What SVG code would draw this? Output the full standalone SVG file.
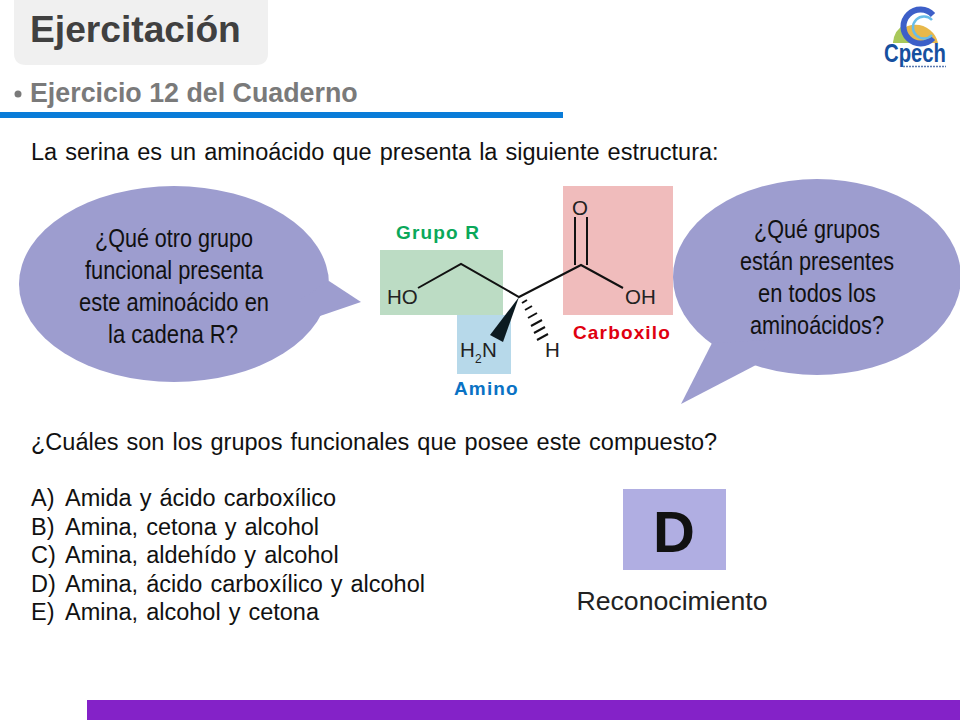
<svg xmlns="http://www.w3.org/2000/svg" width="960" height="720" viewBox="0 0 960 720">
<style>
text{font-family:"Liberation Sans",Arial,sans-serif}
.b{font-size:23.5px;fill:#111;word-spacing:1.5px}
.c{font-size:25px;fill:#111;text-anchor:middle}
.l{font-size:19px;font-weight:bold;letter-spacing:1.15px}
.bond{stroke:#111;stroke-width:2;fill:none}
.bub{fill:#9d9dcf}
</style>
<rect width="960" height="720" fill="#fff"/>
<path d="M14 -10H268V53Q268 65 256 65H26Q14 65 14 53Z" fill="#f0f0f0"/>
<text x="30" y="42" font-size="37.2" font-weight="bold" fill="#404040">Ejercitación</text>
<circle cx="18" cy="94" r="3.500" fill="#7a7a7a"/>
<text x="30" y="102" font-size="26.8" font-weight="bold" fill="#7a7a7a">Ejercicio 12 del Cuaderno</text>
<rect y="112" width="563" height="6" fill="#0a7cd8"/>
<g id="logo">
<path d="M893 43A23 23 0 0 1 938 43Z" fill="#e8b84a"/>
<path d="M893 43A23 23 0 0 1 905 24L910 43Z" fill="#a8c85a"/>
<path d="M933 15A17 17 0 1 0 933 38" fill="none" stroke="#3d5fc8" stroke-width="6"/>
<path d="M932 20A11 11 0 1 0 932 35" fill="none" stroke="#69bde8" stroke-width="2.500"/>
<text x="915" y="62" font-size="25" font-weight="bold" fill="#16509f" text-anchor="middle" textLength="62" lengthAdjust="spacingAndGlyphs">Cpech</text>
<path d="M903 66.500H946" stroke="#5a7ab0" stroke-width="1.500" stroke-dasharray="2 1"/>
</g>
<text x="31" y="160" class="b">La serina es un aminoácido que presenta la siguiente estructura:</text>
<g id="bubble-left">
<ellipse class="bub" cx="174" cy="284" rx="155" ry="98"/>
<path class="bub" d="M329 281L361 302L320 316L300 300Z"/>
<text class="c" x="174" y="247" textLength="158" lengthAdjust="spacingAndGlyphs">¿Qué otro grupo</text>
<text class="c" x="174" y="279" textLength="178" lengthAdjust="spacingAndGlyphs">funcional presenta</text>
<text class="c" x="174" y="311" textLength="190" lengthAdjust="spacingAndGlyphs">este aminoácido en</text>
<text class="c" x="173" y="343" textLength="130" lengthAdjust="spacingAndGlyphs">la cadena R?</text>
</g>
<g id="bubble-right">
<ellipse class="bub" cx="817" cy="277" rx="144" ry="98"/>
<path class="bub" d="M712 343L681 404L756 365L770 340Z"/>
<text class="c" x="817" y="238" textLength="126" lengthAdjust="spacingAndGlyphs">¿Qué grupos</text>
<text class="c" x="817" y="270" textLength="154" lengthAdjust="spacingAndGlyphs">están presentes</text>
<text class="c" x="817" y="302" textLength="118" lengthAdjust="spacingAndGlyphs">en todos los</text>
<text class="c" x="817" y="334" textLength="134" lengthAdjust="spacingAndGlyphs">aminoácidos?</text>
</g>
<g id="molecule">
<rect x="380" y="250" width="123" height="65" fill="#bcdcc4"/>
<rect x="457" y="315" width="54" height="59" fill="#b7d9ea"/>
<rect x="563" y="186" width="110" height="129" fill="#f0bcbc"/>
<path class="bond" d="M418 288L461 264L519 297L581 265L623 288"/>
<path class="bond" d="M575 217V265M587 217V265"/>
<path d="M519 297L490 335L503 342Z" fill="#0c1a20"/>
<path class="bond" stroke-width="1.500" d="M522 303L527 300M525 310L532 306M528 318L537 313M531 326L542 320M534 333L545 327M537 340L548 334"/>
<g font-size="20.500" fill="#222">
<text x="387" y="304">HO</text>
<text x="625" y="304">OH</text>
<text x="572" y="215">O</text>
<text x="545" y="357">H</text>
<text x="460" y="357">H</text>
<text x="475" y="363" font-size="12">2</text>
<text x="482" y="357">N</text>
</g>
<text x="396" y="239" class="l" fill="#0aa85a">Grupo R</text>
<text x="454" y="395" class="l" fill="#0a72c4">Amino</text>
<text x="573" y="339" class="l" fill="#e00010">Carboxilo</text>
</g>
<text x="31" y="450" class="b">¿Cuáles son los grupos funcionales que posee este compuesto?</text>
<g class="b">
<text x="31" y="506">A)</text><text x="65" y="506">Amida y ácido carboxílico</text>
<text x="31" y="535">B)</text><text x="65" y="535">Amina, cetona y alcohol</text>
<text x="31" y="563">C)</text><text x="65" y="563">Amina, aldehído y alcohol</text>
<text x="31" y="592">D)</text><text x="65" y="592">Amina, ácido carboxílico y alcohol</text>
<text x="31" y="620">E)</text><text x="65" y="620">Amina, alcohol y cetona</text>
</g>
<g id="answer">
<rect x="623" y="489" width="103" height="81" fill="#b0aee2"/>
<text x="674" y="552" font-size="58" font-weight="bold" fill="#111" text-anchor="middle">D</text>
</g>
<text x="672" y="610" font-size="26.67" fill="#222" text-anchor="middle">Reconocimiento</text>
<rect x="87" y="700" width="873" height="20" fill="#8422c8"/>
</svg>
